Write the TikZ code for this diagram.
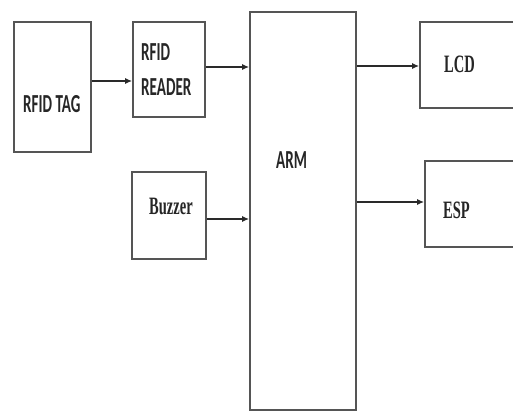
\documentclass[tikz,border=0pt]{standalone}
\usepackage{fontspec}
\usetikzlibrary{arrows.meta}
\newfontfamily\sansc[FakeStretch=0.58]{Carlito}
\newfontfamily\serifc[FakeStretch=0.58]{Liberation Serif}
\definecolor{boxgray}{HTML}{555555}
\definecolor{arrgray}{HTML}{2A2A2A}
\tikzset{
  box/.style={draw=boxgray, line width=1.7pt, inner sep=0pt, fill=white},
  lbl/.style={inner sep=0pt, anchor=base west, text=black!85},
  sanslbl/.style={lbl, font=\sansc\bfseries\fontsize{26}{28}\selectfont},
  seriflbl/.style={lbl, font=\serifc\bfseries\fontsize{25}{27}\selectfont},
  arr/.style={draw=arrgray, line width=1.4pt, -{Latex[length=7pt,width=6pt]}}
}
\begin{document}
\begin{tikzpicture}[x=1pt,y=-1pt]
\useasboundingbox (0,0) rectangle (513,412);
\clip (0,0) rectangle (513,412);
\fill[white] (0,0) rectangle (513,412);
% boxes
\node[box, minimum width=77pt, minimum height=130pt] (tag) at (52.5,87) {};
\node[box, minimum width=72pt, minimum height=95pt] (reader) at (169,69.5) {};
\node[box, minimum width=74pt, minimum height=87pt] (buzzer) at (169,215.5) {};
\node[box, minimum width=106pt, minimum height=398pt] (arm) at (303,211) {};
\node[box, minimum width=120pt, minimum height=86pt] (lcd) at (480,65) {};
\node[box, minimum width=120pt, minimum height=86pt] (esp) at (485,204) {};
% labels
\node[sanslbl] (tagtxt) at (23,112) {RFID TAG};
\node[sanslbl] (rfidtxt) at (141,60) {RFID};
\node[sanslbl] (readertxt) at (141,95) {READER};
\node[sanslbl] (armtxt) at (276,168) {ARM};
\node[seriflbl] (buzzertxt) at (149,214) {Buzzer};
\node[seriflbl] (lcdtxt) at (444,72) {LCD};
\node[seriflbl] (esptxt) at (443,218) {ESP};
% connectors
\coordinate (y81) at (0,81);
\coordinate (y67) at (0,67);
\coordinate (y219) at (0,219);
\coordinate (y66) at (0,66);
\coordinate (y202) at (0,202);
\draw[arr] (tag.east |- y81) -- (reader.west |- y81);
\draw[arr] (reader.east |- y67) -- (arm.west |- y67);
\draw[arr] (buzzer.east |- y219) -- (arm.west |- y219);
\draw[arr] (arm.east |- y66) -- (lcd.west |- y66);
\draw[arr] (arm.east |- y202) -- (esp.west |- y202);
\end{tikzpicture}
\end{document}
